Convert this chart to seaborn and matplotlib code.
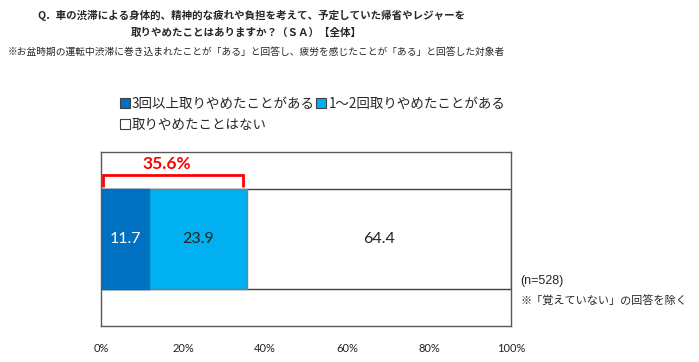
import pandas as pd
import matplotlib.pyplot as plt
import seaborn as sns
from matplotlib.lines import Line2D

# Data
categories = ["3回以上取りやめたことがある", "1～2回取りやめたことがある", "取りやめたことはない"]
values = [11.7, 23.9, 64.4]
colors = ["#0070C0", "#00B0F0", "#FFFFFF"]
value_text_colors = ["white", "#222222", "#222222"]
x_ticks = [0, 20, 40, 60, 80, 100]
x_tick_labels = ["0%", "20%", "40%", "60%", "80%", "100%"]
sample_note = "(n=528)"
exclude_note = "※「覚えていない」の回答を除く"

sns.set_theme(style="white")
plt.rcParams["font.family"] = ["Noto Sans CJK JP", "DejaVu Sans"]

df = pd.DataFrame({"group": ["全体"] * 3, "category": categories, "value": values})
df["cum"] = df["value"].cumsum()
df["left"] = df["cum"] - df["value"]

fig = plt.figure(figsize=(6.99, 3.62), dpi=100)
ax = fig.add_axes([0.1445, 0.0994, 0.5866, 0.4807])

# stacked bar: draw cumulative totals from the back to the front
edge_colors = ["#0070C0", "#7f7f7f", "#404040"]
for i in reversed(range(len(df))):
    row = df.iloc[[i]]
    sns.barplot(data=row, x="cum", y="group", orient="h", color=colors[i],
                width=0.575, edgecolor=edge_colors[i],
                linewidth=1.0, saturation=1, ax=ax)

for i, row in df.iterrows():
    ax.text(row["left"] + row["value"] / 2, 0, f"{row['value']:.1f}",
            ha="center", va="center", fontsize=11.5, family="Lato",
            color=value_text_colors[i])

# red bracket over the "have cancelled" share
total_cancel = df["value"].iloc[:2].sum()
ax.plot([0.5, 0.5, total_cancel - 1.0, total_cancel - 1.0],
        [-0.3, -0.365, -0.365, -0.3], color="#FF0000", linewidth=2,
        solid_capstyle="butt", solid_joinstyle="miter", clip_on=False)
ax.text(total_cancel * 0.45, -0.43, f"{total_cancel:.1f}%", ha="center", va="center",
        fontsize=12.5, fontweight="bold", color="#FF0000", family="Lato")

ax.set_xlim(0, 100)
ax.set_ylim(0.5, -0.5)
ax.set_xticks(x_ticks)
ax.set_xticklabels(x_tick_labels, fontsize=8, family="Lato", color="#222222")
ax.tick_params(axis="x", length=0, pad=12)
ax.set_yticks([])
ax.set_xlabel("")
ax.set_ylabel("")
for s in ax.spines.values():
    s.set_visible(True)
    s.set_color("#595959")
    s.set_linewidth(1.0)

# legend: first column holds items 1 and 3, second column holds item 2
handles = [Line2D([], [], marker="s", linestyle="none", markersize=7,
                  markerfacecolor=c, markeredgecolor="#404040", markeredgewidth=0.8)
           for c in colors]
order = [0, 2, 1]
fig.legend([handles[k] for k in order], [categories[k] for k in order], ncol=2,
           loc="upper left", bbox_to_anchor=(0.162, 0.752), frameon=False,
           fontsize=9.7, handlelength=0.7, handletextpad=0.2, columnspacing=0.1,
           labelspacing=0.55, borderpad=0)

# titles and notes
fig.text(0.36, 0.958, "Q．車の渋滞による身体的、精神的な疲れや負担を考えて、予定していた帰省やレジャーを",
         ha="center", va="center", fontsize=7.55, fontweight="bold")
fig.text(0.352, 0.91, "取りやめたことはありますか？（ＳＡ）【全体】",
         ha="center", va="center", fontsize=7.55, fontweight="bold")
fig.text(0.011, 0.856, "※お盆時期の運転中渋滞に巻き込まれたことが「ある」と回答し、疲労を感じたことが「ある」と回答した対象者",
         ha="left", va="center", fontsize=7)
fig.text(0.744, 0.224, sample_note, ha="left", va="center", fontsize=9, family="Liberation Sans")
fig.text(0.744, 0.171, exclude_note, ha="left", va="center", fontsize=8)

fig.savefig("out.png", dpi=100, facecolor="white")
